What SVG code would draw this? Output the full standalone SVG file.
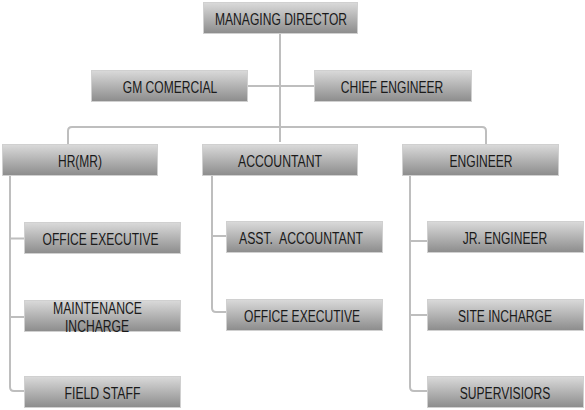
<svg xmlns="http://www.w3.org/2000/svg" width="585" height="410" viewBox="0 0 585 410">
<defs>
<linearGradient id="g" x1="0" y1="0" x2="0" y2="1">
<stop offset="0" stop-color="#dadada"/>
<stop offset="1" stop-color="#8c8c8c"/>
</linearGradient>
</defs>
<style>
.box{fill:url(#g);stroke:#d0d0d0;stroke-width:1}
.t{font-family:"Liberation Sans",Arial,sans-serif;font-size:16px;fill:#1a1a1a;text-anchor:middle}
.c{fill:none;stroke:#bebebe;stroke-width:2;stroke-linejoin:round}
</style>
<rect width="585" height="410" fill="#ffffff"/>
<g id="connectors">
<path class="c" d="M280,33 V142"/>
<path class="c" d="M248,86 H314"/>
<path class="c" d="M68,144 V131 Q68,127 72,127 H482 Q486,127 486,131 V144"/>
<path class="c" d="M10,176 V387 Q10,391 14,391 H24 M10,238.5 H24 M10,317 H24"/>
<path class="c" d="M212,176 V308 Q212,312 216,312 H226 M212,236 H226"/>
<path class="c" d="M410,176 V387 Q410,391 414,391 H427 M410,241 H427 M410,315 H427"/>
</g>
<g id="n-md"><rect class="box" x="203.5" y="2.5" width="154" height="31"/><text class="t" x="281" y="25" textLength="132" lengthAdjust="spacingAndGlyphs">MANAGING DIRECTOR</text></g>
<g id="n-gm"><rect class="box" x="91.5" y="70.5" width="156" height="31"/><text class="t" x="170" y="93" textLength="94.5" lengthAdjust="spacingAndGlyphs">GM COMERCIAL</text></g>
<g id="n-ce"><rect class="box" x="314.5" y="70.5" width="157" height="31"/><text class="t" x="392" y="93" textLength="102.5" lengthAdjust="spacingAndGlyphs">CHIEF ENGINEER</text></g>
<g id="n-hr"><rect class="box" x="2.5" y="144.5" width="155" height="31"/><text class="t" x="80" y="167" textLength="44" lengthAdjust="spacingAndGlyphs">HR(MR)</text></g>
<g id="n-acc"><rect class="box" x="202.5" y="144.5" width="155" height="31"/><text class="t" x="280" y="167" textLength="84" lengthAdjust="spacingAndGlyphs">ACCOUNTANT</text></g>
<g id="n-eng"><rect class="box" x="402.5" y="144.5" width="156" height="31"/><text class="t" x="481" y="167" textLength="63" lengthAdjust="spacingAndGlyphs">ENGINEER</text></g>
<g id="n-oe1"><rect class="box" x="24.5" y="222.5" width="156" height="31"/><text class="t" x="100.5" y="245" textLength="116" lengthAdjust="spacingAndGlyphs">OFFICE EXECUTIVE</text></g>
<g id="n-mi"><rect class="box" x="24.5" y="300.5" width="156" height="31"/><text class="t" x="97.5" y="314" textLength="89" lengthAdjust="spacingAndGlyphs">MAINTENANCE</text><text class="t" x="97" y="332" textLength="64" lengthAdjust="spacingAndGlyphs">INCHARGE</text></g>
<g id="n-fs"><rect class="box" x="24.5" y="376.5" width="156" height="31"/><text class="t" x="102.5" y="399" textLength="76" lengthAdjust="spacingAndGlyphs">FIELD STAFF</text></g>
<g id="n-aa"><rect class="box" x="226.5" y="221.5" width="156" height="31"/><text class="t" x="301" y="244" textLength="124" lengthAdjust="spacingAndGlyphs" xml:space="preserve">ASST.  ACCOUNTANT</text></g>
<g id="n-oe2"><rect class="box" x="226.5" y="299.5" width="156" height="31"/><text class="t" x="302" y="322" textLength="116" lengthAdjust="spacingAndGlyphs">OFFICE EXECUTIVE</text></g>
<g id="n-jr"><rect class="box" x="427.5" y="221.5" width="156" height="31"/><text class="t" x="505" y="244" textLength="84.5" lengthAdjust="spacingAndGlyphs">JR. ENGINEER</text></g>
<g id="n-si"><rect class="box" x="427.5" y="299.5" width="156" height="31"/><text class="t" x="505" y="322" textLength="94" lengthAdjust="spacingAndGlyphs">SITE INCHARGE</text></g>
<g id="n-sv"><rect class="box" x="427.5" y="376.5" width="156" height="31"/><text class="t" x="505" y="399" textLength="90.5" lengthAdjust="spacingAndGlyphs">SUPERVISIORS</text></g>
</svg>
